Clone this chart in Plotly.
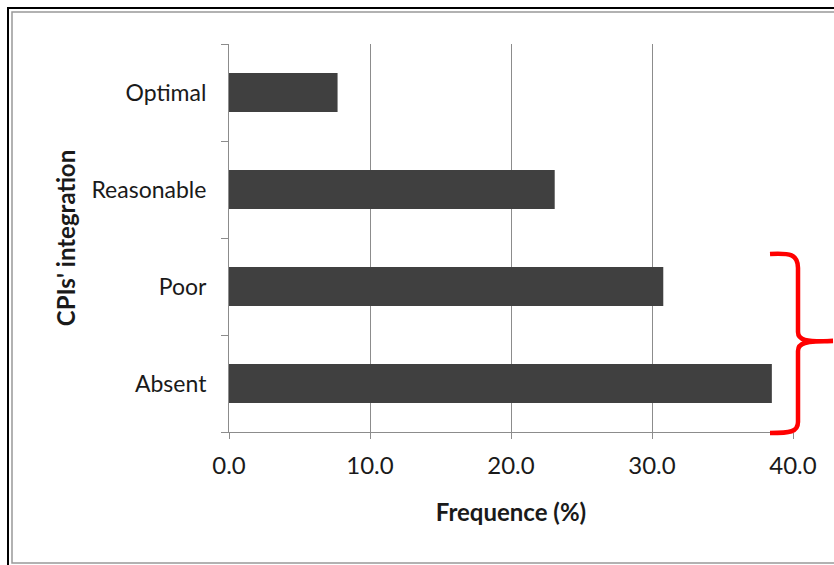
import plotly.graph_objects as go

categories = ["Absent", "Poor", "Reasonable", "Optimal"]
values = [38.5, 30.8, 23.1, 7.7]
x_ticks = [0, 10, 20, 30, 40]
x_tick_labels = ["0.0", "10.0", "20.0", "30.0", "40.0"]

W, H = 834, 565
L, R, T, B = 229, 793, 44, 432  # plot area in pixels

def px(x):
    return (x - L) / (R - L)

def py(y):
    return (B - y) / (B - T)

FONT = "Lato"

fig = go.Figure(go.Bar(
    y=categories, x=values, orientation="h",
    marker=dict(color="#404040", line=dict(width=0)),
    width=0.4,
))

shapes = []
# outer frames
shapes.append(dict(type="rect", xref="paper", yref="paper",
                   x0=px(8), y0=py(8), x1=px(860), y1=py(580),
                   line=dict(color="#000000", width=2), layer="below"))
shapes.append(dict(type="rect", xref="paper", yref="paper",
                   x0=px(12), y0=py(12), x1=px(860), y1=py(563),
                   line=dict(color="#999999", width=1.5), layer="below"))

# red curly bracket
pts = [
    ("M", 770, 254), ("C", 790, 253, 798, 254, 798, 268),
    ("L", 798, 332), ("C", 798, 340, 805, 342, 833, 341),
    ("C", 805, 341, 798, 343, 798, 351),
    ("L", 798, 422), ("C", 798, 432, 790, 433, 770, 433),
]
path = ""
for p in pts:
    cmd = p[0]
    coords = p[1:]
    s = []
    for i in range(0, len(coords), 2):
        s.append(f"{px(coords[i]):.5f},{py(coords[i+1]):.5f}")
    path += cmd + " " + " ".join(s) + " "
shapes.append(dict(type="path", xref="paper", yref="paper", path=path.strip(),
                   line=dict(color="#ff0000", width=4.5)))

fig.update_layout(
    width=W, height=H,
    margin=dict(l=L, r=W - R, t=T, b=H - B, pad=0),
    paper_bgcolor="white", plot_bgcolor="white",
    showlegend=False,
    shapes=shapes,
    font=dict(family=FONT, color="#1a1a1a"),
    xaxis=dict(
        range=[0, 40], tickvals=x_ticks, ticktext=x_tick_labels,
        showgrid=True, gridcolor="#8c8c8c", gridwidth=1,
        showline=True, linecolor="#8c8c8c", linewidth=1,
        ticks="outside", ticklen=6, tickcolor="#8c8c8c",
        tickfont=dict(size=24, family=FONT, color="#1a1a1a"),
        ticklabelstandoff=6,
        zeroline=False,
        title=dict(text="<b>Frequence (%)</b>", font=dict(size=24, family=FONT, color="#1a1a1a"), standoff=26),
    ),
    yaxis=dict(
        categoryorder="array", categoryarray=categories,
        range=[-0.5, 3.5],
        showgrid=False,
        showline=True, linecolor="#8c8c8c", linewidth=1,
        ticks="outside", ticklen=7, tickcolor="#8c8c8c", tickson="boundaries",
        tickfont=dict(size=23, family=FONT, color="#1a1a1a"),
        ticklabelstandoff=17,
        title=dict(text="<b>CPIs' integration</b>", font=dict(size=24, family=FONT, color="#1a1a1a"), standoff=9),
    ),
)

fig.write_html("out.html")
